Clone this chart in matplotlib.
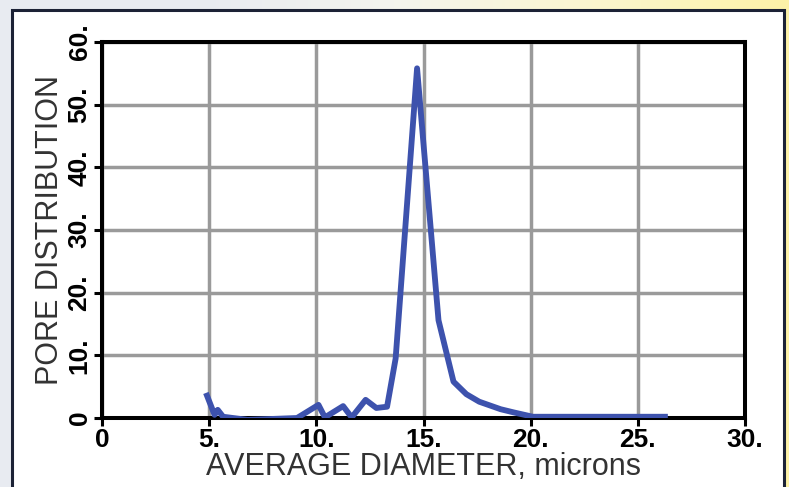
import matplotlib.pyplot as plt
from matplotlib.patches import Rectangle
from matplotlib.colors import LinearSegmentedColormap
import numpy as np

# pore distribution curve
diameter = [4.85, 5.25, 5.4, 5.65, 6.8, 9.1, 10.1, 10.4, 11.25, 11.65, 12.3, 12.8,
            13.3, 13.7, 14.7, 15.7, 16.4, 17.0, 17.6, 18.6, 19.2, 20.1, 26.4]
pore = [4.0, 0.5, 1.3, 0.2, -0.3, 0.0, 2.1, 0.1, 1.9, 0.1, 2.9, 1.6,
        1.8, 9.5, 55.8, 15.6, 5.8, 3.8, 2.6, 1.4, 0.9, 0.2, 0.2]

x_ticks = [0, 5, 10, 15, 20, 25, 30]
x_labels = ['0', '5.', '10.', '15.', '20.', '25.', '30.']
y_ticks = [0, 10, 20, 30, 40, 50, 60]
y_labels = ['0', '10.', '20.', '30.', '40.', '50.', '60.']

plt.rcParams['font.family'] = ['Liberation Sans', 'DejaVu Sans']

fig = plt.figure(figsize=(7.89, 4.87), dpi=100)

# page background: light grey on the left fading to pale yellow at the right
bg = fig.add_axes([0, 0, 1, 1], zorder=-10)
bg_cmap = LinearSegmentedColormap.from_list(
    'bg', ['#e8ebf1', '#e8ebf1', '#f4f4ee', '#fbf6cf', '#fdf2a8'])
bg.imshow(np.linspace(0, 1, 256)[None, :], aspect='auto', cmap=bg_cmap,
          extent=[0, 1, 0, 1])
bg.set_axis_off()

# white panel with dark frame, behind the chart
frame = Rectangle((12 / 789, -0.02), 772 / 789, 1 - 10 / 487 + 0.02,
                  transform=fig.transFigure, facecolor='white',
                  edgecolor='#1c2236', linewidth=2.2, zorder=-5)
fig.add_artist(frame)

ax = fig.add_axes([102 / 789, 69 / 487, 643 / 789, 376 / 487])
ax.set_zorder(2)
ax.plot(diameter, pore, color='#3d52ad', linewidth=4.2, solid_joinstyle='round',
        solid_capstyle='butt', zorder=3)

ax.set_xlim(0, 30)
ax.set_ylim(0, 60)
ax.set_xticks(x_ticks)
ax.set_xticklabels(x_labels)
ax.set_yticks(y_ticks)
ax.set_yticklabels(y_labels, rotation=90, va='center')
ax.grid(True, color='#9a9a9a', linewidth=2.5)
ax.set_axisbelow(True)
for s in ax.spines.values():
    s.set_linewidth(2.9)
    s.set_color('black')
ax.tick_params(direction='out', length=5.5, width=2.2, labelsize=19, pad=2)
for lab in ax.get_xticklabels() + ax.get_yticklabels():
    lab.set_fontweight('bold')

ax.set_xlabel('AVERAGE DIAMETER, microns', fontsize=22, color='#333333',
              labelpad=0)
ax.set_ylabel('PORE DISTRIBUTION', fontsize=22, color='#333333', labelpad=2)

fig.savefig('out.png', dpi=100)
